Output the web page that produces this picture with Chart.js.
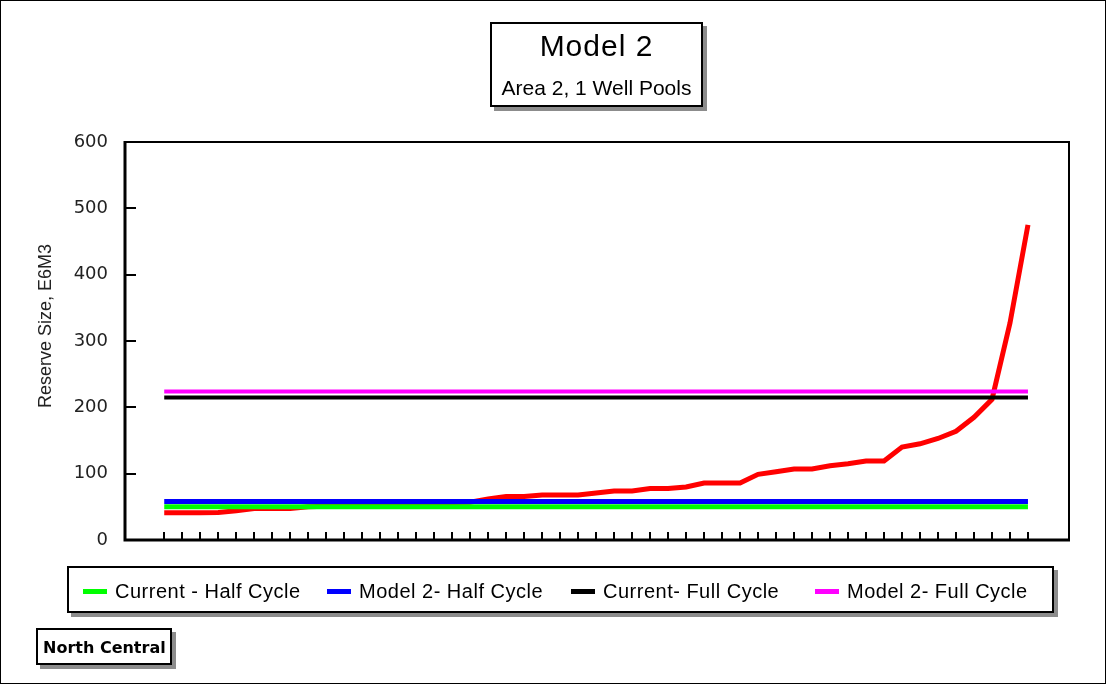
<!DOCTYPE html>
<html>
<head>
<meta charset="utf-8">
<script src="https://cdn.jsdelivr.net/npm/chart.js@4.4.1/dist/chart.umd.min.js"></script>
<style>
  body { margin: 0; background: #fff; font-family: "Liberation Sans", Arial, sans-serif; color: #000; }
  #frame { position: relative; width: 1109px; height: 686px; overflow: hidden; background: #fff; }
  #outer { position: absolute; left: 0; top: 0; width: 1104px; height: 682px; border: 1px solid #000; }
  canvas { position: absolute; left: 0; top: 0; }
  .box { position: absolute; box-sizing: border-box; background: #fff; border: 2px solid #000; box-shadow: 4px 4px 0 #8c8c8c; }
  #titleBox { left: 490px; top: 22px; width: 213px; height: 85px; text-align: center; }
  #titleBox .main { position: absolute; left: 0; right: 0; top: 5px; font-size: 30px; line-height: 34px; letter-spacing: 1px; }
  #titleBox .sub { position: absolute; left: -4px; right: -4px; top: 52px; font-size: 21px; line-height: 24px; }
  #legendBox { left: 67px; top: 566px; width: 987px; height: 47px; }
  .item { position: absolute; top: 11px; font-size: 20px; line-height: 24px; letter-spacing: 0.5px; white-space: nowrap; }
  .swatch { display: inline-block; width: 24px; height: 5px; vertical-align: middle; margin-right: 8px; position: relative; top: -1px; }
  #regionBox { left: 36px; top: 628px; width: 136px; height: 37px; }
  #regionBox span { position: absolute; left: 5px; top: 8px; font-family: "DejaVu Sans", sans-serif; font-weight: bold; font-size: 16px; line-height: 19px; }
</style>
</head>
<body>
<div id="frame">
  <div id="outer"></div>
  <canvas id="myChart" width="1109" height="686"></canvas>
  <div class="box" id="titleBox">
    <div class="main">Model 2</div>
    <div class="sub">Area 2, 1 Well Pools</div>
  </div>
  <div class="box" id="legendBox"></div>
  <div class="box" id="regionBox"><span>North Central</span></div>
</div>
<script>
// pool rank along the x axis (one tick per pool)
const poolIndex = [1, 2, 3, 4, 5, 6, 7, 8, 9, 10, 11, 12, 13, 14, 15, 16, 17, 18, 19, 20,
  21, 22, 23, 24, 25, 26, 27, 28, 29, 30, 31, 32, 33, 34, 35, 36, 37, 38, 39, 40,
  41, 42, 43, 44, 45, 46, 47, 48, 49];

// reserve size of each pool, E6M3 (sorted)
const reserveSize = [41, 41, 41, 41.5, 44, 47.5, 47.5, 47.5, 50, 51, 52, 53, 54, 55, 55.5, 56, 56.5, 57, 62, 65.5,
  65.5, 68, 68, 68, 71, 74, 74, 77.5, 77.5, 80, 86, 86, 86, 99, 103, 107, 107, 112, 115, 119,
  119, 140, 145, 153, 164, 185, 212, 327, 475];

// cut-off lines, drawn from first to last pool
const lineEnds = [1, 49];
const currentHalfCycle = [50, 50];
const model2HalfCycle = [58, 58];
const currentFullCycle = [215, 215];
const model2FullCycle = [224, 224];

const yTicks = [0, 100, 200, 300, 400, 500, 600];

const legendNames = ['Current - Half Cycle', 'Model 2- Half Cycle', 'Current- Full Cycle', 'Model 2- Full Cycle'];
const legendColors = ['#00ff00', '#0000ff', '#000000', '#ff00ff'];
const legendLeft = [14, 258, 502, 746];

const toPoints = (xs, ys) => xs.map((x, i) => ({ x: x, y: ys[i] }));

// legend (HTML, boxed like the original)
const legendBox = document.getElementById('legendBox');
legendNames.forEach((name, i) => {
  const item = document.createElement('div');
  item.className = 'item';
  item.style.left = legendLeft[i] + 'px';
  item.innerHTML = '<span class="swatch" style="background:' + legendColors[i] + '"></span>' + name;
  legendBox.appendChild(item);
});

// plot frame + inward tick marks
const frameAndTicks = {
  id: 'frameAndTicks',
  afterDatasetsDraw(chart) {
    const { ctx, chartArea, scales } = chart;
    const { left, right, top, bottom } = chartArea;
    ctx.save();
    ctx.strokeStyle = '#000';
    ctx.lineWidth = 2;
    ctx.beginPath();
    poolIndex.forEach(v => {
      const px = Math.round(scales.x.getPixelForValue(v));
      ctx.moveTo(px, bottom);
      ctx.lineTo(px, bottom - 8);
    });
    yTicks.forEach(v => {
      if (v === 0 || v === 600) return;
      const py = Math.round(scales.y.getPixelForValue(v));
      ctx.moveTo(left, py);
      ctx.lineTo(left + 11, py);
    });
    ctx.stroke();
    ctx.lineWidth = 2;
    ctx.strokeRect(left, top, right - left, bottom - top);
    ctx.lineWidth = 3;
    ctx.beginPath();
    ctx.moveTo(left, top - 1);
    ctx.lineTo(left, bottom);
    ctx.lineTo(right + 1, bottom);
    ctx.stroke();
    ctx.restore();
  }
};

const ctx = document.getElementById('myChart').getContext('2d');
new Chart(ctx, {
  type: 'line',
  data: {
    datasets: [
      { label: legendNames[0], data: toPoints(lineEnds, currentHalfCycle), borderColor: legendColors[0], borderWidth: 5 },
      { label: legendNames[1], data: toPoints(lineEnds, model2HalfCycle), borderColor: legendColors[1], borderWidth: 5 },
      { label: legendNames[2], data: toPoints(lineEnds, currentFullCycle), borderColor: legendColors[2], borderWidth: 4 },
      { label: legendNames[3], data: toPoints(lineEnds, model2FullCycle), borderColor: legendColors[3], borderWidth: 4 },
      { label: 'Reserve Size', data: toPoints(poolIndex, reserveSize), borderColor: '#ff0000', borderWidth: 5 }
    ]
  },
  options: {
    responsive: false,
    animation: false,
    events: [],
    layout: { padding: { left: 0, top: 142, right: 40, bottom: 146 } },
    elements: { point: { radius: 0 }, line: { tension: 0, fill: false, borderCapStyle: 'butt' } },
    plugins: {
      legend: { display: false },
      title: { display: false },
      tooltip: { enabled: false }
    },
    scales: {
      x: {
        type: 'linear',
        display: false,
        min: -1.18,
        max: 51.28
      },
      y: {
        min: 0,
        max: 600,
        afterFit(scale) { scale.width = 125; },
        grid: { display: false },
        border: { display: false },
        ticks: {
          stepSize: 100,
          padding: 9,
          color: '#222',
          font: { family: '"DejaVu Sans", sans-serif', size: 18 }
        },
        title: {
          display: true,
          // leading spaces lift the label a little above the axis centre, as in the original
          text: '      Reserve Size, E6M3',
          color: '#222',
          padding: { top: 35, bottom: 0 },
          font: { family: '"Liberation Sans", Arial, sans-serif', size: 18 }
        }
      }
    }
  },
  plugins: [frameAndTicks]
});
</script>
</body>
</html>
